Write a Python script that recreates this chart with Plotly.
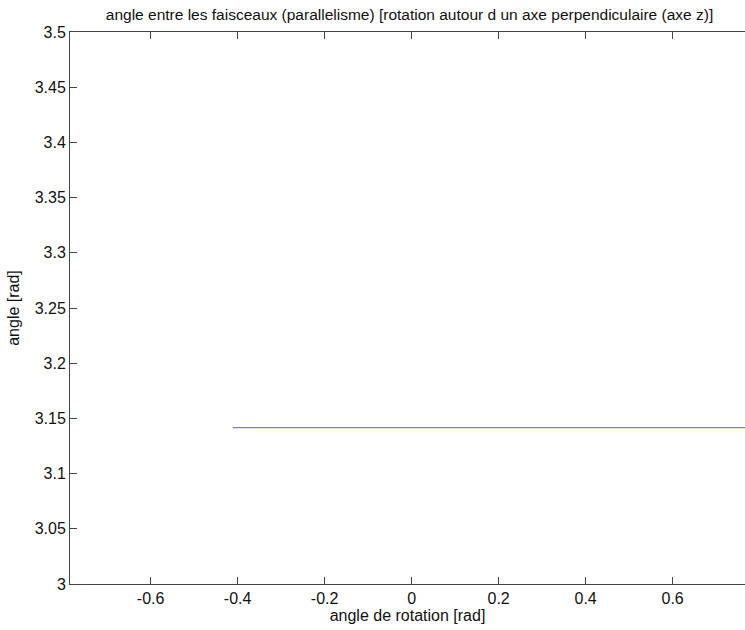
import plotly.graph_objects as go

# data
x_vals = [-0.411, 0.7854]
y_vals = [3.1416, 3.1416]
x_ticks = [-0.6, -0.4, -0.2, 0, 0.2, 0.4, 0.6]
y_ticks = [3, 3.05, 3.1, 3.15, 3.2, 3.25, 3.3, 3.35, 3.4, 3.45, 3.5]

FONT = "Liberation Sans, Arial, sans-serif"

fig = go.Figure()
fig.add_trace(go.Scatter(x=x_vals, y=y_vals, mode="lines",
                         line=dict(color="#7e7fb8", width=1.4),
                         showlegend=False, hoverinfo="skip"))

fig.update_layout(
    width=745, height=630,
    margin=dict(l=70, r=0, t=32, b=46),
    paper_bgcolor="white", plot_bgcolor="white",
    font=dict(family=FONT, size=16, color="#111"),
    title=dict(text="angle entre les faisceaux (parallelisme) [rotation autour d un axe perpendiculaire (axe z)]",
               x=0.503, xref="paper", xanchor="center", y=1 - 15 / 630, yanchor="middle",
               font=dict(family=FONT, size=15.5, color="#111")),
    xaxis=dict(range=[-0.7854, 0.7664], tickvals=x_ticks,
               ticktext=[f"{v:g}" for v in x_ticks],
               ticks="inside", ticklen=7, tickcolor="#444", tickwidth=1,
               showline=True, linecolor="#444", linewidth=1, mirror="ticks",
               showgrid=False, zeroline=False,
               tickfont=dict(family=FONT, size=16),
               title=dict(text="angle de rotation [rad]", standoff=2,
                          font=dict(family=FONT, size=16))),
    yaxis=dict(range=[3, 3.5], tickvals=y_ticks,
               ticktext=[f"{v:g}" for v in y_ticks],
               ticks="inside", ticklen=7, tickcolor="#444", tickwidth=1,
               showline=True, linecolor="#444", linewidth=1, mirror=False,
               showgrid=False, zeroline=False,
               tickfont=dict(family=FONT, size=16),
               title=dict(text="angle [rad]", standoff=11,
                          font=dict(family=FONT, size=16))),
)

fig.write_html("out.html")
